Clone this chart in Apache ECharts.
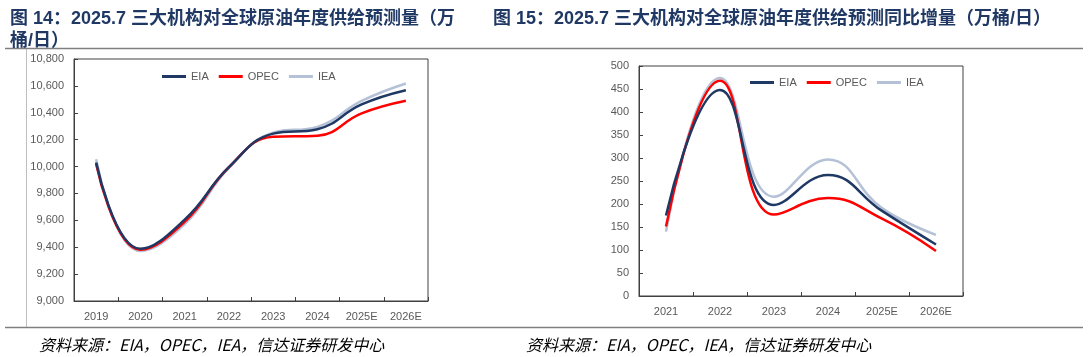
<!DOCTYPE html>
<html><head><meta charset="utf-8">
<script src="https://cdn.jsdelivr.net/npm/echarts@6/dist/echarts.min.js"></script>
<style>html,body{margin:0;padding:0;background:#fff}#c{width:1090px;height:357px}</style>
</head><body><div id="c"></div>
<script>
// Figure 14: annual supply forecast (10k bbl/day)
const yearsL = ['2019','2020','2021','2022','2023','2024','2025E','2026E'];
const eiaL  = [10030, 9388, 9605, 9995, 10245, 10278, 10462, 10568];
const opecL = [10020, 9382, 9588, 9995, 10222, 10230, 10396, 10490];
const ieaL  = [10055, 9372, 9572, 9990, 10252, 10295, 10488, 10618];
const yTicksL = [9000, 10800, 200];
// Figure 15: YoY increment forecast (10k bbl/day)
const yearsR = ['2021','2022','2023','2024','2025E','2026E'];
const eiaR  = [175, 448, 198, 263, 185, 112];
const opecR = [151, 468, 177, 213, 168, 98];
const ieaR  = [140, 474, 216, 297, 191, 133];
const yTicksR = [0, 500, 50];
const seriesNames = ['EIA','OPEC','IEA'];
const colors = ['#1F3864','#FF0000','#B4C1D6'];
const titleL1 = '图 14：2025.7 三大机构对全球原油年度供给预测量（万';
const titleL2 = '桶/日）';
const titleR = '图 15：2025.7 三大机构对全球原油年度供给预测同比增量（万桶/日）';
const source = '资料来源：EIA，OPEC，IEA，信达证券研发中心';

const chart = echarts.init(document.getElementById('c'), null, {renderer:'canvas'});
const lab = {color:'#595959', fontSize:11, fontFamily:'Liberation Sans, Arial, sans-serif'};
function xAx(idx, data){
  return {type:'category', gridIndex:idx, data:data, boundaryGap:true,
    axisLine:{show:true, lineStyle:{color:'#404040', width:1}},
    axisTick:{show:true, inside:true, length:4, lineStyle:{color:'#404040'}},
    axisLabel:Object.assign({margin:10}, lab), splitLine:{show:false}};
}
function yAx(idx, t, fmt){
  return {type:'value', gridIndex:idx, min:t[0], max:t[1], interval:t[2],
    axisLine:{show:true, lineStyle:{color:'#404040', width:1}},
    axisTick:{show:true, inside:true, length:4, lineStyle:{color:'#404040'}},
    axisLabel:Object.assign({margin:10, formatter:fmt}, lab), splitLine:{show:false}};
}
const fmtL = v => v.toLocaleString('en-US');
function mk(name, data, xi, color){
  return {name:name, type:'line', data:data, xAxisIndex:xi, yAxisIndex:xi, smooth:0.45,
    symbol:'none', lineStyle:{width:2.5, color:color}, itemStyle:{color:color}, z: name==='IEA'?1:(name==='OPEC'?2:3)};
}
const titleStyle = {color:'#1F3864', fontSize:18, fontWeight:'bold', fontFamily:'Liberation Sans, Noto Sans CJK SC, sans-serif'};
const legendText = {color:'#595959', fontSize:11, fontFamily:'Liberation Sans, Arial, sans-serif'};
const srcStyle = {color:'#000', fontSize:16, fontStyle:'italic', fontWeight:'normal', fontFamily:'Noto Sans CJK SC, sans-serif'};
chart.setOption({
  animation:false,
  title:[
    {text:titleL1, left:5, top:5, textStyle:titleStyle},
    {text:titleL2, left:5, top:27, textStyle:titleStyle},
    {text:titleR, left:488, top:5, textStyle:titleStyle},
    {text:source, left:34, top:332, textStyle:srcStyle},
    {text:source, left:521, top:332, textStyle:srcStyle}
  ],
  legend:[
    {data:seriesNames, left:162, top:71, itemWidth:24, itemHeight:3, itemGap:10, icon:'rect', textStyle:legendText, padding:0},
    {data:seriesNames, left:750, top:77, itemWidth:24, itemHeight:3, itemGap:10, icon:'rect', textStyle:legendText, padding:0}
  ],
  grid:[
    {left:74, top:59, width:354, height:242, show:true, borderColor:'#404040', borderWidth:1, containLabel:false},
    {left:639, top:66, width:324, height:230, show:true, borderColor:'#404040', borderWidth:1, containLabel:false}
  ],
  xAxis:[xAx(0, yearsL), xAx(1, yearsR)],
  yAxis:[yAx(0, yTicksL, fmtL), yAx(1, yTicksR, v=>String(v))],
  series:[
    mk('IEA', ieaL, 0, colors[2]), mk('OPEC', opecL, 0, colors[1]), mk('EIA', eiaL, 0, colors[0]),
    mk('IEA', ieaR, 1, colors[2]), mk('OPEC', opecR, 1, colors[1]), mk('EIA', eiaR, 1, colors[0])
  ],
  graphic:[
    {type:'line', shape:{x1:5, y1:48.5, x2:1083, y2:48.5}, style:{stroke:'#7f7f7f', lineWidth:1.5}},
    {type:'line', shape:{x1:26.5, y1:49, x2:26.5, y2:327}, style:{stroke:'#bfbfbf', lineWidth:1}},
    {type:'line', shape:{x1:5, y1:327.5, x2:1083, y2:327.5}, style:{stroke:'#7f7f7f', lineWidth:1.5}}
  ]
});
</script></body></html>
